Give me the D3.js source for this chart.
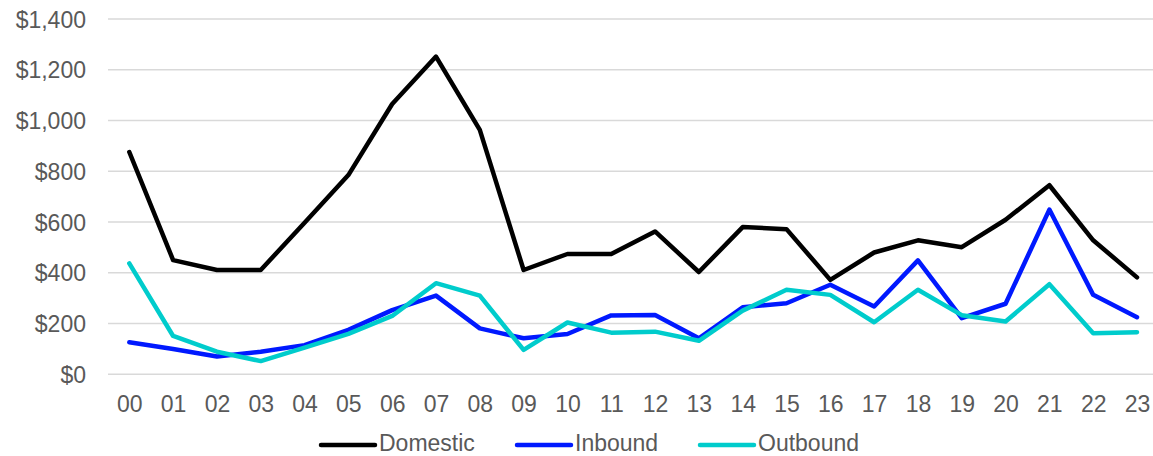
<!DOCTYPE html>
<html><head><meta charset="utf-8">
<script src="https://cdn.jsdelivr.net/npm/d3@7"></script>
<style>
html,body{margin:0;padding:0;background:#fff;}
svg{display:block;}
text{font-family:"Liberation Sans",Arial,sans-serif;}
</style></head>
<body>
<svg id="chart" width="1153" height="456"></svg>
<script>
const hours = ["00","01","02","03","04","05","06","07","08","09","10","11","12","13","14","15","16","17","18","19","20","21","22","23"];
const domestic = [876,450,411,411,597,785,1065,1252,963,411,474,474,563,403,580,572,372,480,528,501,609,745,528,382];
const inbound  = [126,100,70,89,115,175,253,310,181,142,159,232,234,142,264,280,353,267,449,221,278,649,313,225];
const outbound = [437,151,89,52,105,159,230,359,310,96,204,164,168,132,251,333,313,205,333,233,208,355,162,166];
const yTicks = [0,200,400,600,800,1000,1200,1400];
const seriesNames = ["Domestic","Inbound","Outbound"];
const seriesColors = ["#000000","#0019ff","#00cccc"];

const svg = d3.select("#chart");
const x = d3.scalePoint().domain(hours).range([129.3, 1137]);
const y = d3.scaleLinear().domain([0,1400]).range([374.3, 19]);
const gridX0 = 108, gridX1 = 1153;
const FS = 23;

// gridlines
svg.append("g").selectAll("line").data(yTicks).join("line")
  .attr("x1", gridX0).attr("x2", gridX1)
  .attr("y1", d => y(d)).attr("y2", d => y(d))
  .attr("stroke", "#d9d9d9").attr("stroke-width", 1.5);

// y axis labels
const yAxis = d3.axisLeft(y).tickValues(yTicks).tickSize(0).tickPadding(0)
  .tickFormat(d => "$" + d3.format(",")(d));
const gy = svg.append("g").attr("transform", "translate(86,0)").call(yAxis);
gy.select(".domain").remove();
gy.selectAll("text").attr("font-size", FS).attr("fill", "#595959")
  .attr("font-family", "Liberation Sans, Arial, sans-serif").attr("dy", "0.35em");

// x axis labels
const xAxis = d3.axisBottom(x).tickSize(0).tickPadding(0);
const gx = svg.append("g").attr("transform", "translate(0,412)").call(xAxis);
gx.select(".domain").remove();
gx.selectAll("text").attr("font-size", FS).attr("fill", "#595959")
  .attr("font-family", "Liberation Sans, Arial, sans-serif").attr("dy", "0");

// lines
const data = [domestic, inbound, outbound];
const line = d3.line().x((d,i) => x(hours[i])).y(d => y(d));
data.forEach((vals, k) => {
  svg.append("path").datum(vals)
    .attr("d", line).attr("fill", "none")
    .attr("stroke", seriesColors[k]).attr("stroke-width", 4.5)
    .attr("stroke-linejoin", "round").attr("stroke-linecap", "round");
});

// legend
const legendX = [321, 517, 700];
const lg = svg.append("g");
seriesNames.forEach((name, k) => {
  lg.append("line").attr("x1", legendX[k]).attr("x2", legendX[k] + 54)
    .attr("y1", 445).attr("y2", 445)
    .attr("stroke", seriesColors[k]).attr("stroke-width", 4.5).attr("stroke-linecap", "round");
  lg.append("text").attr("x", legendX[k] + 58).attr("y", 451)
    .attr("font-size", FS).attr("fill", "#595959").text(name);
});
</script>
</body></html>
